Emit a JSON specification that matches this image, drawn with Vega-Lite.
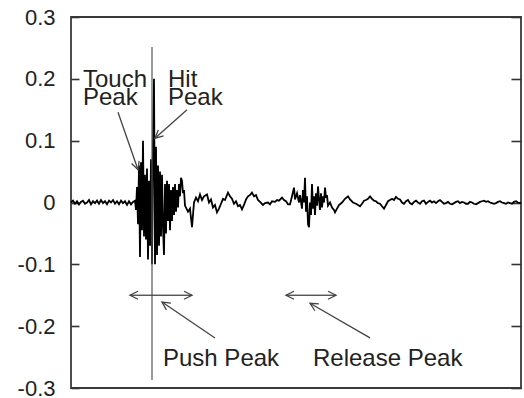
{
  "$schema": "https://vega.github.io/schema/vega-lite/v6.json",
  "width": 450,
  "height": 371,
  "autosize": "none",
  "padding": {"left": 71, "top": 17, "right": 3, "bottom": 10},
  "config": {"view": {"stroke": "#3a3a3a", "strokeWidth": 1.8}, "font": "Liberation Sans"},
  "datasets": {
    "signal": [
      {"t":0,"v":0},{"t":2,"v":0.003},{"t":4,"v":-0.002},{"t":6,"v":0.002},{"t":8,"v":-0.003},{"t":10,"v":0.001},{"t":12,"v":0.003},{"t":14,"v":-0.002},{"t":16,"v":0},{"t":18,"v":0.004},{"t":20,"v":-0.003},{"t":22,"v":0.002},{"t":24,"v":-0.001},{"t":26,"v":0.003},{"t":28,"v":-0.002},{"t":30,"v":0.004},{"t":32,"v":-0.001},{"t":34,"v":0.002},{"t":36,"v":-0.003},{"t":38,"v":0.003},{"t":40,"v":0},{"t":42,"v":0.004},{"t":44,"v":-0.002},{"t":46,"v":0.002},{"t":48,"v":-0.003},{"t":50,"v":0.003},{"t":52,"v":-0.001},{"t":54,"v":0.002},{"t":56,"v":-0.004},{"t":58,"v":0.002},{"t":60,"v":-0.003},{"t":62,"v":0.001},{"t":64,"v":0.003},
      {"t":65,"v":-0.012},{"t":66,"v":0.025},{"t":67,"v":-0.035},{"t":68,"v":0.06},{"t":69,"v":-0.088},{"t":70,"v":0.065},{"t":71,"v":-0.045},{"t":72,"v":0.1},{"t":73,"v":-0.055},{"t":74,"v":0.045},{"t":75,"v":-0.06},{"t":76,"v":0.055},{"t":77,"v":-0.092},{"t":78,"v":0.035},{"t":79,"v":-0.07},{"t":80,"v":0.07},{"t":81,"v":-0.1},{"t":82,"v":0.09},{"t":83,"v":0.2},{"t":84,"v":-0.1},{"t":85,"v":0.09},{"t":86,"v":-0.085},{"t":87,"v":0.06},{"t":88,"v":-0.07},{"t":89,"v":0.05},{"t":90,"v":-0.055},{"t":91,"v":0.045},{"t":92,"v":-0.04},{"t":93,"v":-0.085},{"t":94,"v":0.03},{"t":95,"v":-0.05},{"t":96,"v":0.035},{"t":97,"v":-0.03},{"t":98,"v":0.03},{"t":99,"v":-0.045},{"t":100,"v":0.02},{"t":101,"v":-0.03},{"t":102,"v":0.025},{"t":103,"v":-0.02},{"t":104,"v":0.03},{"t":105,"v":-0.015},{"t":106,"v":0.02},{"t":107,"v":-0.008},{"t":108,"v":0.03},{"t":109,"v":0.01},{"t":110,"v":0.04},{"t":111,"v":0.035},{"t":112,"v":0.015},{"t":113,"v":0.02},{"t":114,"v":-0.005},
      {"t":117,"v":-0.015},{"t":119,"v":-0.01},{"t":121,"v":-0.04},{"t":123,"v":0},{"t":125,"v":0.008},{"t":127,"v":0.002},{"t":129,"v":0.013},{"t":131,"v":0.004},{"t":133,"v":0.01},{"t":136,"v":0.013},{"t":138,"v":0},{"t":140,"v":0.005},{"t":142,"v":-0.008},{"t":144,"v":-0.004},{"t":146,"v":-0.016},{"t":148,"v":-0.01},{"t":150,"v":-0.002},{"t":152,"v":0.006},{"t":154,"v":0.004},{"t":157,"v":0.016},{"t":159,"v":0.01},{"t":161,"v":0.006},{"t":163,"v":-0.002},{"t":165,"v":0.002},{"t":167,"v":-0.006},{"t":169,"v":-0.004},{"t":171,"v":-0.011},{"t":173,"v":-0.004},{"t":175,"v":0.005},{"t":177,"v":0.01},{"t":179,"v":0.012},{"t":181,"v":0.016},{"t":183,"v":0.01},{"t":185,"v":0.012},{"t":187,"v":0.004},{"t":189,"v":0.001},{"t":192,"v":-0.004},{"t":194,"v":-0.001},{"t":197,"v":0},{"t":199,"v":-0.003},{"t":201,"v":0.002},{"t":204,"v":0.001},{"t":206,"v":0.004},{"t":208,"v":0.003},{"t":211,"v":0.008},{"t":213,"v":0.004},
      {"t":215,"v":0.002},{"t":217,"v":-0.003},{"t":219,"v":-0.003},{"t":221,"v":0.01},{"t":223,"v":0.024},{"t":224,"v":0.005},{"t":226,"v":0.015},{"t":228,"v":0},{"t":229,"v":0.012},{"t":231,"v":-0.01},{"t":232,"v":0.02},{"t":233,"v":0},{"t":234,"v":0.04},{"t":235,"v":-0.015},{"t":236,"v":0.01},{"t":237,"v":-0.035},{"t":238,"v":-0.04},{"t":239,"v":0},{"t":240,"v":-0.02},{"t":241,"v":0.03},{"t":242,"v":-0.01},{"t":243,"v":0.01},{"t":244,"v":-0.02},{"t":245,"v":0.015},{"t":246,"v":-0.005},{"t":247,"v":0.026},{"t":248,"v":0.005},{"t":249,"v":-0.012},{"t":250,"v":0.015},{"t":251,"v":-0.008},{"t":252,"v":0.01},{"t":253,"v":0},{"t":254,"v":0.024},{"t":255,"v":0.008},{"t":256,"v":0.012},{"t":257,"v":-0.005},{"t":259,"v":0},{"t":261,"v":-0.008},{"t":263,"v":-0.012},{"t":264,"v":-0.016},{"t":266,"v":-0.01},{"t":268,"v":-0.004},{"t":271,"v":0},{"t":274,"v":0.006},{"t":277,"v":0.01},{"t":279,"v":0.005},{"t":282,"v":0},{"t":285,"v":-0.002},{"t":287,"v":-0.004},{"t":289,"v":-0.006},{"t":291,"v":-0.002},{"t":293,"v":0.003},{"t":295,"v":0.004},{"t":297,"v":0.006},{"t":299,"v":0.01},{"t":301,"v":0.006},{"t":303,"v":0.003},{"t":305,"v":0.002},{"t":307,"v":-0.001},
      {"t":309,"v":-0.002},{"t":311,"v":-0.006},{"t":313,"v":-0.01},{"t":315,"v":-0.004},{"t":317,"v":0.002},{"t":319,"v":0.004},{"t":321,"v":0.006},{"t":323,"v":0.004},{"t":325,"v":0.009},{"t":327,"v":0.006},{"t":329,"v":0.005},{"t":331,"v":0},{"t":333,"v":-0.002},{"t":335,"v":0.002},{"t":337,"v":0.004},{"t":339,"v":-0.001},{"t":341,"v":-0.003},{"t":343,"v":0.001},{"t":345,"v":0.003},{"t":347,"v":0},{"t":349,"v":-0.002},{"t":351,"v":0.002},{"t":353,"v":0.003},{"t":355,"v":-0.002},{"t":357,"v":0.001},{"t":359,"v":0.003},{"t":361,"v":0},{"t":363,"v":0.002},{"t":365,"v":-0.001},{"t":367,"v":0.002},{"t":369,"v":0.004},{"t":371,"v":0.001},{"t":373,"v":-0.002},{"t":375,"v":-0.001},{"t":377,"v":0.001},{"t":379,"v":-0.002},{"t":381,"v":-0.003},{"t":383,"v":-0.001},{"t":385,"v":0.001},{"t":387,"v":0.002},{"t":389,"v":-0.001},{"t":391,"v":0.001},{"t":393,"v":0},{"t":395,"v":-0.002},{"t":397,"v":-0.002},{"t":399,"v":0.001},{"t":401,"v":0},{"t":403,"v":-0.002},{"t":405,"v":-0.003},{"t":407,"v":-0.001},{"t":409,"v":0.001},{"t":411,"v":0.002},{"t":413,"v":0.003},{"t":415,"v":0.001},{"t":417,"v":0.002},{"t":419,"v":0},{"t":421,"v":-0.001},{"t":423,"v":-0.002},{"t":425,"v":-0.001},{"t":427,"v":0.001},{"t":429,"v":0.002},{"t":431,"v":0},{"t":433,"v":-0.001},{"t":435,"v":-0.002},{"t":437,"v":0},{"t":439,"v":-0.001},{"t":441,"v":-0.002},{"t":443,"v":0.001},{"t":445,"v":0.002},{"t":447,"v":0},{"t":449,"v":-0.001},{"t":450,"v":0}
    ],
    "marker": [{"t": 81, "top": 0.2515, "bottom": -0.287}],
    "arrows": [
      {"x1": 47, "y1": 0.146, "x2": 67, "y2": 0.053},
      {"x1": 116, "y1": 0.150, "x2": 84, "y2": 0.104},
      {"x1": 144, "y1": -0.219, "x2": 91, "y2": -0.161},
      {"x1": 299, "y1": -0.219, "x2": 239, "y2": -0.163},
      {"x1": 90, "y1": -0.15, "x2": 59, "y2": -0.15},
      {"x1": 90, "y1": -0.15, "x2": 121, "y2": -0.15},
      {"x1": 240, "y1": -0.15, "x2": 215, "y2": -0.15},
      {"x1": 240, "y1": -0.15, "x2": 265, "y2": -0.15}
    ],
    "labels": [
      {"x": 12, "y": 0.187, "label": "Touch\nPeak"},
      {"x": 97, "y": 0.187, "label": "Hit\nPeak"},
      {"x": 92, "y": -0.264, "label": "Push Peak"},
      {"x": 242, "y": -0.264, "label": "Release Peak"}
    ]
  },
  "layer": [
    {
      "data": {"name": "signal"},
      "mark": {"type": "line", "color": "#000", "strokeWidth": 1.8},
      "encoding": {
        "x": {"field": "t", "type": "quantitative", "scale": {"domain": [0, 450], "nice": false, "zero": false}, "axis": null},
        "y": {"field": "v", "type": "quantitative", "scale": {"domain": [-0.3, 0.3], "nice": false, "zero": false},
          "axis": {"orient": "left", "title": null, "values": [-0.3, -0.2, -0.1, 0, 0.1, 0.2, 0.3],
            "labelExpr": "datum.value == 0 ? '0' : replace(format(datum.value, '.1f'), '\u2212', '-')",
            "labelFont": "Liberation Sans", "labelFontSize": 22, "labelColor": "#222",
            "ticks": true, "tickSize": -8, "tickColor": "#333", "tickWidth": 1.6, "labelPadding": 24,
            "domain": false, "grid": false}}
      }
    },
    {
      "data": {"name": "marker"},
      "mark": {"type": "rule", "color": "#555", "strokeWidth": 1.2},
      "encoding": {
        "x": {"field": "t", "type": "quantitative", "axis": null},
        "y": {"field": "top", "type": "quantitative",
          "axis": {"orient": "right", "title": null, "values": [-0.3, -0.2, -0.1, 0, 0.1, 0.2, 0.3],
            "labels": false, "ticks": true, "tickSize": -10, "tickColor": "#333", "tickWidth": 1.6, "domain": false, "grid": false}},
        "y2": {"field": "bottom"}
      }
    },
    {
      "data": {"name": "arrows"},
      "mark": {"type": "rule", "color": "#444", "strokeWidth": 1.3},
      "encoding": {
        "x": {"field": "x1", "type": "quantitative", "axis": null},
        "y": {"field": "y1", "type": "quantitative", "axis": null},
        "x2": {"field": "x2"},
        "y2": {"field": "y2"}
      }
    },
    {
      "data": {"name": "arrows"},
      "transform": [{"calculate": "atan2(-(datum.y2 - datum.y1) * 618.3, datum.x2 - datum.x1) * 180 / PI", "as": "ang"}],
      "mark": {"type": "point", "shape": "M-1.6,-0.8L0,0L-1.6,0.8", "filled": false, "size": 100, "stroke": "#444", "strokeWidth": 1.3, "opacity": 1},
      "encoding": {
        "x": {"field": "x2", "type": "quantitative", "axis": null},
        "y": {"field": "y2", "type": "quantitative", "axis": null},
        "angle": {"field": "ang", "type": "quantitative", "scale": null}
      }
    },
    {
      "data": {"name": "labels"},
      "mark": {"type": "text", "align": "left", "baseline": "alphabetic", "font": "Liberation Sans", "fontSize": 24, "lineBreak": "\n", "lineHeight": 18, "color": "#222"},
      "encoding": {
        "x": {"field": "x", "type": "quantitative", "axis": null},
        "y": {"field": "y", "type": "quantitative", "axis": null},
        "text": {"field": "label"}
      }
    }
  ],
  "resolve": {"axis": {"y": "independent"}}
}
